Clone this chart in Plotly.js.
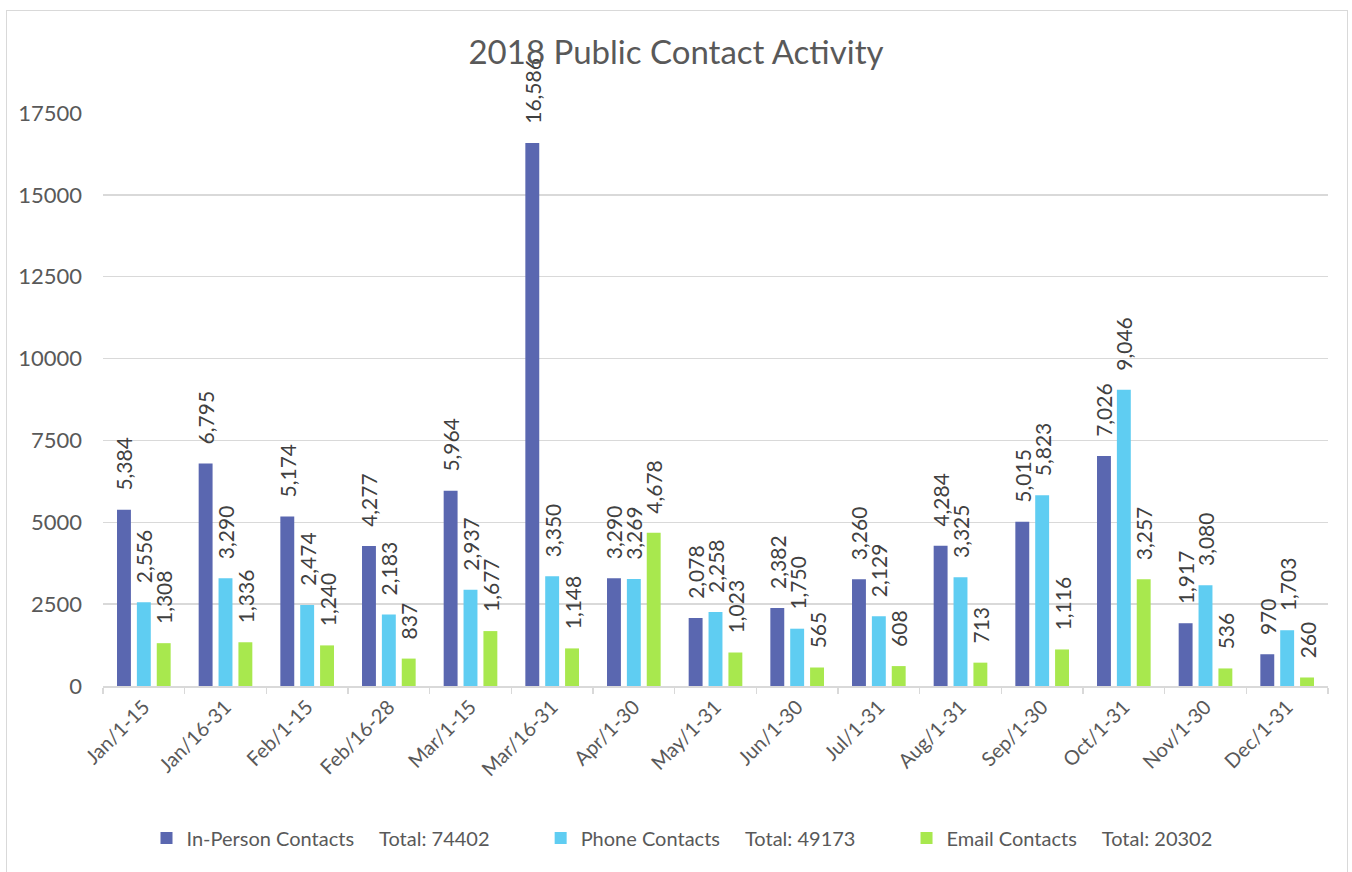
<!DOCTYPE html>
<html>
<head>
<meta charset="utf-8">
<script src="https://cdn.plot.ly/plotly-3.0.1.min.js"></script>
<style>
  html, body { margin: 0; padding: 0; background: #ffffff; }
  #chart { position: absolute; left: 0; top: 0; width: 1352px; height: 872px; }
  #frame { position: absolute; left: 6px; top: 10px; width: 1342px; height: 870px; border: 1.5px solid #d9d9d9; pointer-events: none; box-sizing: border-box; }
</style>
</head>
<body>
<div id="chart"></div>
<div id="frame"></div>
<script>
const categories = ["Jan/1-15", "Jan/16-31", "Feb/1-15", "Feb/16-28", "Mar/1-15", "Mar/16-31", "Apr/1-30", "May/1-31", "Jun/1-30", "Jul/1-31", "Aug/1-31", "Sep/1-30", "Oct/1-31", "Nov/1-30", "Dec/1-31"];
const inPerson = [5384, 6795, 5174, 4277, 5964, 16586, 3290, 2078, 2382, 3260, 4284, 5015, 7026, 1917, 970];
const phone    = [2556, 3290, 2474, 2183, 2937, 3350, 3269, 2258, 1750, 2129, 3325, 5823, 9046, 3080, 1703];
const email    = [1308, 1336, 1240, 837, 1677, 1148, 4678, 1023, 565, 608, 713, 1116, 3257, 536, 260];
const seriesNames = ["In-Person Contacts", "Phone Contacts", "Email Contacts"];
const yTicks = [0, 2500, 5000, 7500, 10000, 12500, 15000, 17500];

const FONT = "Lato, 'Open Sans', sans-serif";
const colors = ["#5A67B0", "#5FCDF2", "#A8E84E"];
const nb = n => "\u00a0".repeat(n);
const sum = a => a.reduce((s, v) => s + v, 0);
const trailing = [9, 9, 0];

const data = [inPerson, phone, email].map((vals, i) => ({
  type: "bar",
  x: categories,
  y: vals,
  name: seriesNames[i] + nb(5) + "Total: " + sum(vals) + nb(trailing[i]),
  marker: { color: colors[i] },
  text: vals.map(v => nb(3) + v.toLocaleString("en-US")),
  texttemplate: "%{text}",
  textposition: "outside",
  textangle: -90,
  constraintext: "none",
  cliponaxis: false,
  textfont: { family: FONT, size: 21, color: "#404040" },
  hoverinfo: "x+y+name"
}));

const layout = {
  width: 1352,
  height: 872,
  margin: { l: 103, r: 24, t: 113, b: 186, autoexpand: false },
  paper_bgcolor: "#ffffff",
  plot_bgcolor: "#ffffff",
  font: { family: FONT, color: "#595959" },
  title: {
    text: "2018 Public Contact Activity",
    font: { family: FONT, size: 33, color: "#595959" },
    x: 0.5, xref: "container", xanchor: "center",
    y: 1 - 52 / 872, yref: "container", yanchor: "middle"
  },
  barmode: "group",
  bargap: 0.27,
  bargroupgap: 0.3,
  xaxis: {
    type: "category",
    tickangle: -45,
    tickfont: { family: FONT, size: 20, color: "#595959" },
    showline: true,
    linecolor: "#d9d9d9",
    linewidth: 1.5,
    ticks: "outside",
    tickson: "boundaries",
    ticklen: 6,
    tickcolor: "#d9d9d9",
    tickwidth: 1.5,
    showgrid: false,
    zeroline: false,
    automargin: false
  },
  yaxis: {
    range: [0, 17500],
    tickvals: yTicks,
    ticktext: yTicks.map(String),
    tickfont: { family: FONT, size: 22, color: "#595959" },
    showgrid: true,
    gridcolor: "#d9d9d9",
    gridwidth: 1.5,
    zeroline: false,
    showline: false,
    ticks: "",
    ticklabelstandoff: 20,
    automargin: false
  },
  legend: {
    orientation: "h",
    x: (682 - 103) / 1225, xanchor: "center",
    y: (686 - 838) / 573, yanchor: "middle",
    font: { family: FONT, size: 20, color: "#595959" },
    itemwidth: 30,
    traceorder: "normal"
  },
  showlegend: true
};

Plotly.newPlot("chart", data, layout, { displayModeBar: false, staticPlot: true });
</script>
</body>
</html>
